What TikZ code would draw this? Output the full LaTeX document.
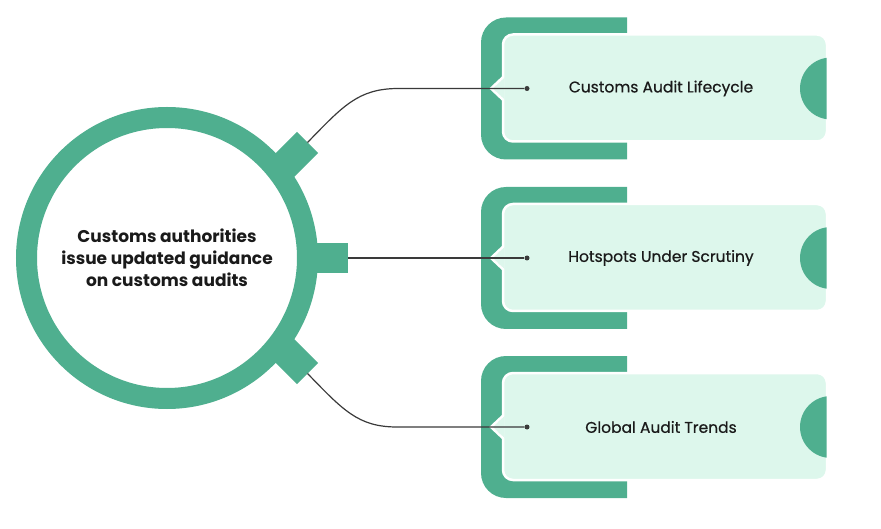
\documentclass[tikz,border=0pt]{standalone}
\usepackage{fontspec}
\setmainfont{Poppins}
\newfontfamily\labelfont{Poppins}[FakeBold=0.6]
\definecolor{dkgreen}{HTML}{4FAF8F}
\definecolor{ltgreen}{HTML}{DDF7EC}
\definecolor{ink}{HTML}{1A1A1A}
\definecolor{wire}{HTML}{3A3A3A}
\begin{document}
\begin{tikzpicture}[x=1pt,y=-1pt,
  ring/.style={draw=dkgreen,line width=21pt,circle,minimum size=281pt,inner sep=0pt,fill=white},
  card/.style={fill=ltgreen,draw=white,line width=2.5pt,rounded corners=10pt},
  wirel/.style={draw=wire,line width=1.2pt},
  dotn/.style={circle,fill=wire,minimum size=5pt,inner sep=0pt},
  label/.style={font=\labelfont\fontsize{15.5}{18}\selectfont,text=ink},
  hub/.style={font=\fontsize{17}{22}\selectfont\bfseries,text=ink,align=center}]
\useasboundingbox (0,0) rectangle (881,529);
% tabs
\foreach \x/\y/\a/\n in {307.5/142.5/45/ta,348/258/0/tb,307.5/373.5/-45/tc}{
  \begin{scope}[shift={(\x,\y)},rotate=\a]
    \fill[dkgreen] (-45,-15) rectangle (0,15);
    \coordinate (\n) at (0,0);
  \end{scope}
}
\node[ring] (hub) at (167,258) {};
\node[hub] (hubtext) at (167,258) {Customs authorities\\issue updated guidance\\on customs audits};
% cards
\foreach \cy/\n/\t in {88.5/c1/Customs Audit Lifecycle,258/c2/Hotspots Under Scrutiny,427/c3/Global Audit Trends}{
  \fill[dkgreen] (627,\cy-71) -- (506,\cy-71) arc[start angle=270,end angle=180,radius=25] -- (481,\cy+46) arc[start angle=180,end angle=90,radius=25] -- (627,\cy+71) -- cycle;
  \path[card] (503,\cy-54) rectangle (827,\cy+53);
  \fill[ltgreen] (504.5,\cy-11) -- (492,\cy) -- (504.5,\cy+11) -- cycle;
  \draw[white,line width=2.5pt,line join=miter] (503.2,\cy-11.5) -- (491,\cy) -- (503.2,\cy+11.5);
  \begin{scope}
    \clip (700,\cy-50) rectangle (826.5,\cy+50);
    \fill[dkgreen] (831,\cy) circle[radius=31];
  \end{scope}
  \node[dotn] (\n d) at (527,\cy) {};
  \node[label] (\n) at (661,\cy) {\t};
}
% connectors
\draw[wirel] (ta) .. controls (343,106) and (358,89) .. (397,88.5) -- (c1d);
\draw[wirel] (tb) -- (c2d);
\draw[wirel] (tc) .. controls (343,410) and (358,427) .. (397,427) -- (c3d);
\end{tikzpicture}
\end{document}
